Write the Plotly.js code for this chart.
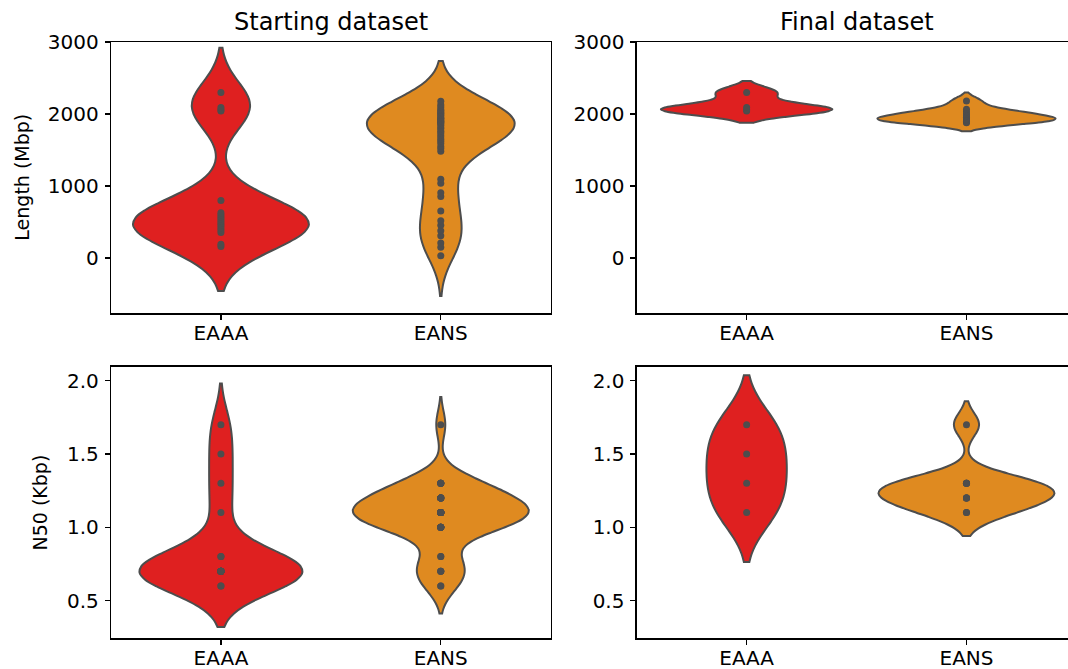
<!DOCTYPE html>
<html>
<head>
<meta charset="utf-8">
<script src="https://cdn.plot.ly/plotly-3.0.1.min.js"></script>
<style>
html, body { margin: 0; padding: 0; overflow: hidden; background: #fff; }
#chart { width: 1080px; height: 669px; }
</style>
</head>
<body>
<div id="chart"></div>
<script>
// ---- data ----
const categories = ['EAAA', 'EANS'];
const panelTitles = ['Starting dataset', 'Final dataset'];
const yTitles = ['Length (Mbp)', 'N50 (Kbp)'];

// Length (Mbp), starting dataset
const lengthStartEAAA = [2300, 2090, 2060, 2040, 800, 630, 600, 570, 540, 510, 480, 450, 420, 390, 355, 190, 160];
const lengthStartEANS = [2176, 2130, 2100, 2070, 2050, 2030, 2010, 2000, 1980, 1960, 1940, 1930, 1915, 1900, 1890,
                         1880, 1860, 1840, 1810, 1790, 1760, 1740, 1710, 1680, 1650, 1620, 1590, 1550, 1520, 1484,
                         1093, 1037, 908, 853, 654, 516, 456, 378, 308, 207, 148, 32];
// Length (Mbp), final dataset
const lengthFinalEAAA = [2300, 2090, 2060, 2040];
const lengthFinalEANS = [2180, 2065, 2030, 2000, 1975, 1950, 1930, 1915, 1900, 1890, 1880];

// N50 (Kbp), starting dataset
const n50StartEAAA = [1.7, 1.5, 1.3, 1.1, 0.8, 0.8, 0.7, 0.7, 0.7, 0.7, 0.7, 0.7, 0.7, 0.7, 0.7, 0.6, 0.6];
const n50StartEANS = [1.7, 1.3, 1.3, 1.3, 1.3, 1.3, 1.2, 1.2, 1.2, 1.2, 1.2, 1.2, 1.2,
                      1.1, 1.1, 1.1, 1.1, 1.1, 1.1, 1.1, 1.1, 1.1, 1.1, 1.1,
                      1.0, 1.0, 1.0, 1.0, 1.0, 1.0, 1.0, 0.8, 0.8, 0.7, 0.7, 0.7, 0.6, 0.6];
// N50 (Kbp), final dataset
const n50FinalEAAA = [1.7, 1.5, 1.3, 1.1];
const n50FinalEANS = [1.7, 1.3, 1.3, 1.3, 1.3, 1.2, 1.2, 1.2, 1.2, 1.1, 1.1];

const lengthTicks = [0, 1000, 2000, 3000];
const n50Ticks = [0.5, 1.0, 1.5, 2.0];

// ---- style ----
const fills = { EAAA: '#df2020', EANS: '#df8a20' };
const gray = '#4d4d4d';
const FONT = 'DejaVu Sans, Liberation Sans, sans-serif';
const W = 1080, H = 669;

function violin(cat, values, xa, ya, bw, width) {
  return {
    type: 'violin', name: cat, y: values, xaxis: xa, yaxis: ya,
    fillcolor: fills[cat], line: { color: gray, width: 2 },
    points: 'all', pointpos: 0, jitter: 0,
    marker: { color: gray, size: 7, line: { width: 0 } },
    box: { visible: false }, meanline: { visible: false },
    bandwidth: bw, width: width, scalemode: 'width', spanmode: 'soft',
    showlegend: false, hoverinfo: 'skip', opacity: 1
  };
}

const data = [
  violin('EAAA', lengthStartEAAA, 'x', 'y', 310, 0.80),
  violin('EANS', lengthStartEANS, 'x', 'y', 280, 0.67),
  violin('EAAA', lengthFinalEAAA, 'x2', 'y2', 80, 0.78),
  violin('EANS', lengthFinalEANS, 'x2', 'y2', 60, 0.81),
  violin('EAAA', n50StartEAAA, 'x3', 'y3', 0.14, 0.74),
  violin('EANS', n50StartEANS, 'x3', 'y3', 0.094, 0.80),
  violin('EAAA', n50FinalEAAA, 'x4', 'y4', 0.168, 0.365),
  violin('EANS', n50FinalEANS, 'x4', 'y4', 0.08, 0.80)
];

const px = v => v / W;
const py = v => (H - v) / H;
const colX = [[px(111), px(550.7)], [px(636.7), px(1076.4)]];
const rowY = [[py(313.3), py(42)], [py(638.3), py(366.7)]];

function xaxis(dom, anchor) {
  return {
    domain: dom, anchor: anchor, type: 'category',
    categoryorder: 'array', categoryarray: categories, range: [-0.5, 1.5],
    showline: true, mirror: true, linecolor: '#000', linewidth: 1.25,
    ticks: 'outside', ticklen: 5, tickwidth: 1.25, tickcolor: '#000',
    showgrid: false, zeroline: false, fixedrange: true, automargin: false,
    tickfont: { family: FONT, size: 20, color: '#000' }, ticklabelstandoff: -4
  };
}
function yaxis(dom, anchor, range, ticks, fmt) {
  return {
    domain: dom, anchor: anchor, range: range,
    tickmode: 'array', tickvals: ticks, tickformat: fmt,
    showline: true, mirror: true, linecolor: '#000', linewidth: 1.25,
    ticks: 'outside', ticklen: 5, tickwidth: 1.25, tickcolor: '#000',
    showgrid: false, zeroline: false, fixedrange: true, automargin: false,
    tickfont: { family: FONT, size: 20, color: '#000' }, ticklabelstandoff: 2
  };
}

const lenRange = [-768, 3000];
const n50Range = [0.243, 2.095];

const layout = {
  width: W, height: H,
  margin: { l: 0, r: 0, t: 0, b: 0 },
  paper_bgcolor: '#fff', plot_bgcolor: '#fff',
  violinmode: 'overlay', showlegend: false,
  font: { family: FONT, color: '#000' },
  xaxis: xaxis(colX[0], 'y'),
  yaxis: yaxis(rowY[0], 'x', lenRange, lengthTicks, 'd'),
  xaxis2: xaxis(colX[1], 'y2'),
  yaxis2: yaxis(rowY[0], 'x2', lenRange, lengthTicks, 'd'),
  xaxis3: xaxis(colX[0], 'y3'),
  yaxis3: yaxis(rowY[1], 'x3', n50Range, n50Ticks, '.1f'),
  xaxis4: xaxis(colX[1], 'y4'),
  yaxis4: yaxis(rowY[1], 'x4', n50Range, n50Ticks, '.1f'),
  annotations: [
    { text: panelTitles[0], xref: 'paper', yref: 'paper', x: (colX[0][0] + colX[0][1]) / 2, y: py(22),
      xanchor: 'center', yanchor: 'middle', showarrow: false, font: { family: FONT, size: 24, color: '#000' } },
    { text: panelTitles[1], xref: 'paper', yref: 'paper', x: (colX[1][0] + colX[1][1]) / 2, y: py(22),
      xanchor: 'center', yanchor: 'middle', showarrow: false, font: { family: FONT, size: 24, color: '#000' } },
    { text: yTitles[0], xref: 'paper', yref: 'paper', x: px(22), y: (rowY[0][0] + rowY[0][1]) / 2,
      xanchor: 'center', yanchor: 'middle', textangle: -90, showarrow: false, font: { family: FONT, size: 19, color: '#000' } },
    { text: yTitles[1], xref: 'paper', yref: 'paper', x: px(40), y: (rowY[1][0] + rowY[1][1]) / 2,
      xanchor: 'center', yanchor: 'middle', textangle: -90, showarrow: false, font: { family: FONT, size: 19, color: '#000' } }
  ]
};

Plotly.newPlot('chart', data, layout, { staticPlot: true, displayModeBar: false });
</script>
</body>
</html>
